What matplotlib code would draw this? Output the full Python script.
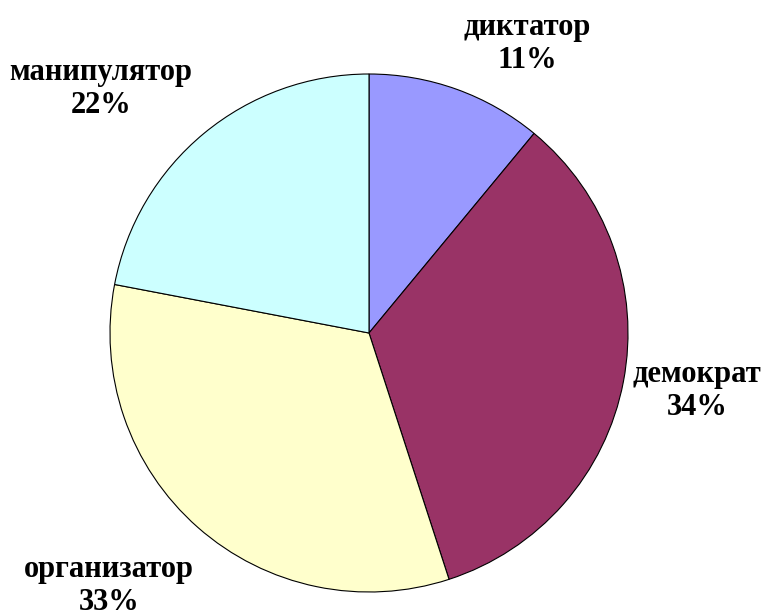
import matplotlib.pyplot as plt

labels = ["диктатор", "демократ", "организатор", "манипулятор"]
shares = [11, 34, 33, 22]
colors = ["#9999FF", "#993366", "#FFFFCC", "#CCFFFF"]
# label anchor points (data coords, pie radius = 1)
label_pos = [(0.61, 1.116), (1.266, -0.224), (-1.004, -0.977), (-1.035, 0.942)]

fig = plt.figure(figsize=(7.64, 6.13), dpi=100)
ax = fig.add_axes([110 / 764, 21 / 613, 518 / 764, 518 / 613])

ax.pie(shares, colors=colors, startangle=90, counterclock=False,
       wedgeprops=dict(edgecolor="black", linewidth=0.8))
ax.set_xlim(-1, 1)
ax.set_ylim(-1, 1)
ax.set_aspect("equal")
ax.axis("off")

for name, val, (x, y) in zip(labels, shares, label_pos):
    ax.text(x, y, f"{name}\n{val}%", ha="center", va="center",
            family="Liberation Serif", fontweight="bold", fontsize=22,
            linespacing=1.2)

fig.savefig("out.png", dpi=100)
